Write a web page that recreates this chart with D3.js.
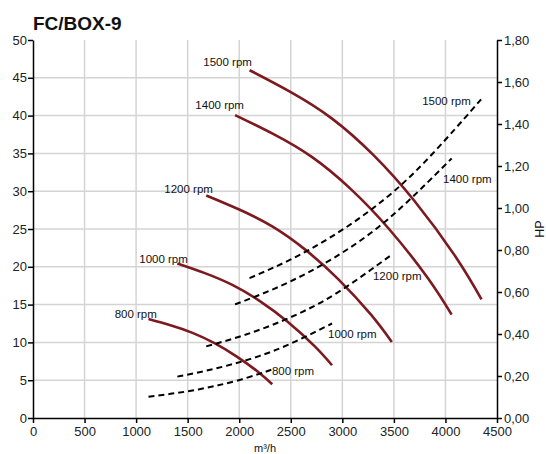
<!DOCTYPE html>
<html>
<head>
<meta charset="utf-8">
<script src="https://cdn.jsdelivr.net/npm/d3@7"></script>
<style>
  body { margin: 0; background: #fff; }
  svg { font-family: 'Liberation Sans', Arial, sans-serif; }
</style>
</head>
<body>
<svg id="chart"></svg>
<script>
// rpm names
const rpms = ['800 rpm', '1000 rpm', '1200 rpm', '1400 rpm', '1500 rpm'];

// flow (m3/h), pressure (left axis) and power (HP, right axis) per rpm
const flow800  = [1120, 1333, 1547, 1760, 1973, 2187, 2320];
const pres800  = [13.08, 12.26, 11.26, 9.90, 8.16, 6.06, 4.47];
const hp800    = [0.101, 0.115, 0.131, 0.152, 0.177, 0.209, 0.231];

const flow1000 = [1400, 1667, 1933, 2200, 2467, 2733, 2900];
const pres1000 = [20.44, 19.16, 17.60, 15.47, 12.76, 9.47, 6.98];
const hp1000   = [0.197, 0.224, 0.256, 0.296, 0.347, 0.409, 0.450];

const flow1200 = [1680, 2000, 2320, 2640, 2960, 3280, 3480];
const pres1200 = [29.44, 27.58, 25.34, 22.27, 18.37, 13.63, 10.05];
const hp1200   = [0.341, 0.387, 0.443, 0.512, 0.599, 0.707, 0.778];

const flow1400 = [1960, 2333, 2707, 3080, 3453, 3827, 4060];
const pres1400 = [40.07, 37.54, 34.50, 30.31, 25.00, 18.55, 13.68];
const hp1400   = [0.541, 0.614, 0.703, 0.813, 0.951, 1.122, 1.236];

const flow1500 = [2100, 2500, 2900, 3300, 3700, 4100, 4350];
const pres1500 = [46.0, 43.1, 39.6, 34.8, 28.7, 21.3, 15.7];
const hp1500   = [0.666, 0.755, 0.865, 1.00, 1.17, 1.38, 1.52];

// where the rpm labels sit (data coords)
const presLabelAt  = [[1201, 13.2], [1502, 20.5], [1745, 29.8], [2046, 40.9], [2123, 46.6]];
const powerLabelAt = [[2317, 0.205], [2861, 0.381], [3297, 0.657], [3977, 1.119], [3774, 1.49]];

const xTicks = [0, 500, 1000, 1500, 2000, 2500, 3000, 3500, 4000, 4500];
const yTicks = [0, 5, 10, 15, 20, 25, 30, 35, 40, 45, 50];
const hpTicks = [0, 0.2, 0.4, 0.6, 0.8, 1.0, 1.2, 1.4, 1.6, 1.8];

const flows = [flow800, flow1000, flow1200, flow1400, flow1500];
const press = [pres800, pres1000, pres1200, pres1400, pres1500];
const hps = [hp800, hp1000, hp1200, hp1400, hp1500];

const W = 546, H = 454;
const margin = {top: 40, right: 49, bottom: 36, left: 33};
const width = W - margin.left - margin.right;
const height = H - margin.top - margin.bottom;

const svg = d3.select('#chart').attr('width', W).attr('height', H);
const g = svg.append('g').attr('transform', 'translate(' + margin.left + ',' + margin.top + ')');

const x = d3.scaleLinear().domain([0, 4500]).range([0, width]);
const y = d3.scaleLinear().domain([0, 50]).range([height, 0]);
const yHP = d3.scaleLinear().domain([0, 1.8]).range([height, 0]);

// grid
g.append('g').selectAll('line').data(xTicks.slice(1, -1)).join('line')
  .attr('x1', d => x(d)).attr('x2', d => x(d))
  .attr('y1', 0).attr('y2', height)
  .attr('stroke', '#d4d4d4').attr('stroke-width', 1.5);
g.append('g').selectAll('line').data(yTicks.slice(1, -1)).join('line')
  .attr('x1', 0).attr('x2', width)
  .attr('y1', d => y(d)).attr('y2', d => y(d))
  .attr('stroke', '#d4d4d4').attr('stroke-width', 1.5);

// axes
const fmtHP = d => d3.format('.2f')(d).replace('.', ',');

const xAxis = g.append('g').attr('transform', 'translate(0,' + height + ')')
  .call(d3.axisBottom(x).tickValues(xTicks).tickFormat(d3.format('d')).tickSize(5).tickPadding(4).tickSizeOuter(0));
const yAxis = g.append('g')
  .call(d3.axisLeft(y).tickValues(yTicks).tickSize(5).tickPadding(1).tickSizeOuter(0));
const hpAxis = g.append('g').attr('transform', 'translate(' + width + ',0)')
  .call(d3.axisRight(yHP).tickValues(hpTicks).tickFormat(fmtHP).tickSize(5).tickPadding(2).tickSizeOuter(0));

[xAxis, yAxis, hpAxis].forEach(a => {
  a.selectAll('path, line').attr('stroke', '#000').attr('stroke-width', 1.5);
  a.selectAll('text').attr('fill', '#222').style('font-size', '13px')
   .style('font-family', "'Liberation Sans', Arial, sans-serif");
});

// pressure curves
const line = d3.line().curve(d3.curveNatural);
flows.forEach((f, i) => {
  g.append('path')
    .attr('fill', 'none')
    .attr('stroke', '#7d1a20')
    .attr('stroke-width', 2.6)
    .attr('d', line(f.map((q, j) => [x(q), y(press[i][j])])));
});

// power curves
flows.forEach((f, i) => {
  g.append('path')
    .attr('fill', 'none')
    .attr('stroke', '#000')
    .attr('stroke-width', 2)
    .attr('stroke-dasharray', '6,4')
    .attr('d', line(f.map((q, j) => [x(q), yHP(hps[i][j])])));
});

// labels
rpms.forEach((r, i) => {
  g.append('text')
    .attr('x', x(presLabelAt[i][0])).attr('y', y(presLabelAt[i][1]))
    .attr('text-anchor', 'end').attr('font-size', '11.5px').attr('fill', '#111')
    .text(r);
  g.append('text')
    .attr('x', x(powerLabelAt[i][0])).attr('y', yHP(powerLabelAt[i][1]))
    .attr('text-anchor', 'start').attr('font-size', '11.5px').attr('fill', '#111')
    .text(r);
});

// titles
svg.append('text')
  .attr('x', 33).attr('y', 30)
  .attr('font-size', '19px').attr('font-weight', 'bold').attr('fill', '#111')
  .text('FC/BOX-9');

svg.append('text')
  .attr('x', margin.left + width / 2).attr('y', 452)
  .attr('text-anchor', 'middle').attr('font-size', '11px').attr('fill', '#111')
  .text('m³/h');

svg.append('text')
  .attr('transform', 'translate(544,' + (margin.top + height / 2) + ') rotate(-90)')
  .attr('text-anchor', 'middle').attr('font-size', '12.5px').attr('fill', '#111')
  .text('HP');
</script>
</body>
</html>
